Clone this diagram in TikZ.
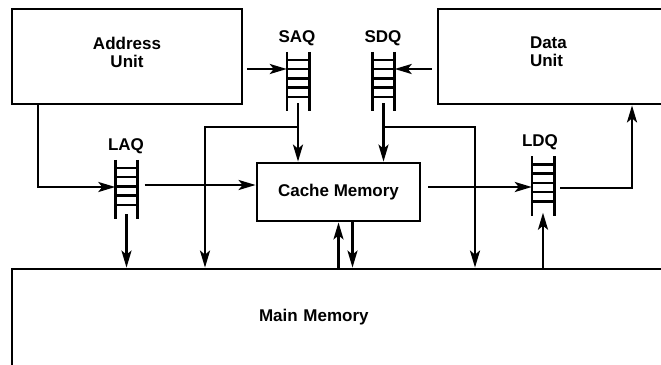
\documentclass[tikz,border=0pt]{standalone}
\usepackage{fontspec}
\setmainfont{Liberation Sans}
\usetikzlibrary{arrows.meta}
\tikzset{
  unitbox/.style={draw, line width=2.8pt, inner sep=0pt},
  queue/.style={inner sep=0pt, minimum width=22pt, minimum height=59pt},
  qlabel/.style={inner sep=0pt},
  wire/.style={line width=2.6pt},
  link/.style={wire, -{Stealth[length=17pt,width=10pt,inset=4pt]}}
}
% ladder symbol of a queue
\newcommand{\ladder}[1]{%
  \draw[wire] (#1.north west) -- (#1.south west) (#1.north east) -- (#1.south east);
  \foreach \k in {0,...,4}
    \draw[wire] ([yshift=-8pt-9.25pt*\k]#1.north west) -- ([yshift=-8pt-9.25pt*\k]#1.north east);
}
\begin{document}
\begin{tikzpicture}[x=1pt, y=-1pt, font=\fontsize{17}{18}\selectfont\bfseries]
  \useasboundingbox (0,0) rectangle (661,364);
  \clip (0,0) rectangle (661,364);

  % units
  \node[unitbox, minimum width=230pt, minimum height=95pt, align=center, text depth=9pt] (addr) at (127,56.5) {Address\\Unit};
  \node[unitbox, minimum width=262pt, minimum height=95pt, text width=78pt, align=left, text depth=27pt] (data) at (569,56.5) {Data\\Unit};
  \node[unitbox, minimum width=163pt, minimum height=58pt] (cache) at (338.5,192) {Cache Memory};
  \node[unitbox, minimum width=688pt, minimum height=97pt, text width=194pt, align=left] (main) at (356,317.5) {Main Memory};

  % queues
  \node[queue] (saq) at (298,81.5) {};
  \node[queue] (sdq) at (383.5,81.5) {};
  \node[queue] (laq) at (126.5,189.5) {};
  \node[queue] (ldq) at (543,186) {};
  \ladder{saq}
  \ladder{sdq}
  \ladder{laq}
  \ladder{ldq}

  \node[qlabel] (saqlbl) at (297,38) {SAQ};
  \node[qlabel] (sdqlbl) at (383,38) {SDQ};
  \node[qlabel] (laqlbl) at (126,146) {LAQ};
  \node[qlabel] (ldqlbl) at (540,142) {LDQ};

  % connections
  \coordinate (sabus) at (205,127);
  \coordinate (sdbus) at (475,127);

  \draw[link] ([xshift=4pt]addr.east |- 0,69) -- (saq.west |- 0,69);
  \draw[link] ([xshift=-5pt]data.west |- 0,69) -- (sdq.east |- 0,69);
  \draw[link] (addr.south -| 38,0) |- (laq.west |- 0,187);
  \draw[link] ([xshift=7pt]laq.east |- 0,185) -- (cache.west |- 0,185);
  \draw[link] ([yshift=5pt]laq.south) -- (laq.south |- main.north);
  \draw[link] ([yshift=8pt]saq.south) -- (saq.south |- cache.north);
  \draw[link] (saq.south |- sabus) -- (sabus) -- (sabus |- main.north);
  \draw[link] ([yshift=8pt]sdq.south) -- (sdq.south |- cache.north);
  \draw[link] (sdq.south |- sdbus) -- (sdbus) -- (sdbus |- main.north);
  \draw[link] ([xshift=7pt]cache.east |- 0,187) -- (ldq.west |- 0,187);
  \draw[link] ([xshift=6pt]ldq.east |- 0,188) -| (data.south -| 632,0);
  \draw[link] (ldq.south |- main.north) -- ([yshift=3pt]ldq.south);
  \draw[link] (cache.south |- main.north) -- (cache.south);
  \draw[link] ([xshift=14pt]cache.south) -- ([xshift=14pt]cache.south |- main.north);
\end{tikzpicture}
\end{document}
